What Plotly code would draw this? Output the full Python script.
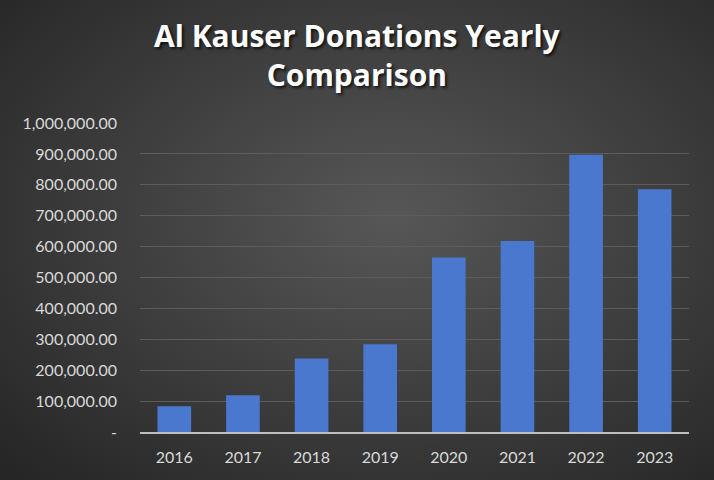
import base64

import plotly.graph_objects as go

years = ["2016", "2017", "2018", "2019", "2020", "2021", "2022", "2023"]
donations = [83000, 119000, 238000, 284000, 565000, 618000, 897000, 786000]

tick_values = [0, 100000, 200000, 300000, 400000, 500000, 600000, 700000, 800000, 900000, 1000000]
tick_labels = ["-", "100,000.00", "200,000.00", "300,000.00", "400,000.00", "500,000.00",
               "600,000.00", "700,000.00", "800,000.00", "900,000.00", "1,000,000.00"]

W, H = 714, 480
M = dict(l=140, r=25, t=123, b=48)

# Excel-style dark radial background as an inline svg
bg_svg = f"""<svg xmlns='http://www.w3.org/2000/svg' width='{W}' height='{H}'>
<defs><radialGradient id='g' cx='0.55' cy='0.45' r='0.75'>
<stop offset='0' stop-color='#575757'/><stop offset='1' stop-color='#262626'/>
</radialGradient></defs>
<rect width='{W}' height='{H}' fill='url(#g)'/></svg>"""
bg_uri = "data:image/svg+xml;base64," + base64.b64encode(bg_svg.encode()).decode()

pw = W - M["l"] - M["r"]
ph = H - M["t"] - M["b"]

fig = go.Figure()
fig.add_trace(go.Bar(
    x=years,
    y=donations,
    marker=dict(color="#4a78cf", line=dict(width=0)),
    hoverinfo="x+y",
))

fig.update_layout(
    width=W,
    height=H,
    margin=M,
    paper_bgcolor="#3a3a3a",
    plot_bgcolor="rgba(0,0,0,0)",
    bargap=0.51,
    showlegend=False,
    font=dict(family="Lato", color="#d9d9d9", size=16),
    xaxis=dict(
        showgrid=False,
        showline=True,
        linecolor="#bfbfbf",
        linewidth=2,
        ticks="",
        ticklabelstandoff=10,
        tickfont=dict(size=16, color="#d9d9d9"),
    ),
    yaxis=dict(
        range=[0, 1000000],
        tickvals=tick_values,
        ticktext=tick_labels,
        showgrid=True,
        gridcolor="#5c5c5c",
        gridwidth=1,
        zeroline=False,
        showline=False,
        ticks="",
        ticklabelstandoff=22,
        tickfont=dict(size=16, color="#d9d9d9"),
    ),
    images=[dict(
        source=bg_uri,
        xref="paper", yref="paper",
        x=-M["l"] / pw, y=1 + M["t"] / ph,
        sizex=W / pw, sizey=H / ph,
        xanchor="left", yanchor="top",
        sizing="stretch",
        layer="below",
    )],
)

# title as a paper annotation so both lines sit where the reference has them
fig.add_annotation(
    text="Al Kauser Donations Yearly<br>Comparison",
    xref="paper", yref="paper",
    x=(357 - M["l"]) / pw, y=1 + (M["t"] - 13) / ph,
    xanchor="center", yanchor="top",
    showarrow=False,
    font=dict(family="Open Sans", size=30, color="#ffffff", weight="bold",
              shadow="2px 2px 3px rgba(0,0,0,0.7)"),
)

fig.write_html("out.html", config={"displayModeBar": False},
               post_script="document.body.style.margin='0';")
